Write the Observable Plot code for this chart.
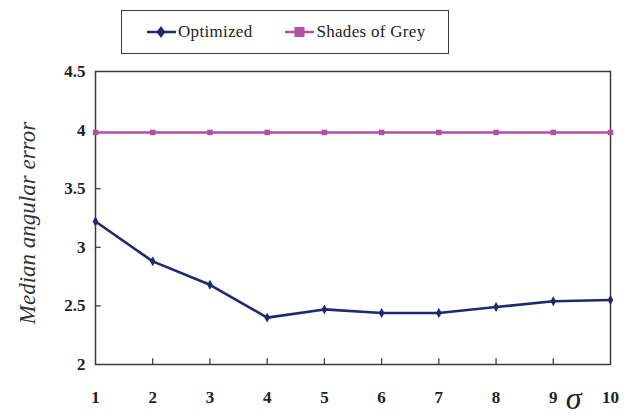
<!DOCTYPE html>
<html>
<head>
<meta charset="utf-8">
<script src="https://cdn.jsdelivr.net/npm/d3@7"></script>
<script src="https://cdn.jsdelivr.net/npm/@observablehq/plot@0.6"></script>
<style>
  body { margin: 0; background: #fff; font-family: "Liberation Serif", "DejaVu Serif", serif; }
  #chart { width: 637px; height: 416px; position: relative; }
  #legendRow { height: 60px; position: relative; }
  #legend {
    position: absolute; left: 121px; top: 10px; width: 328px; height: 44px;
    box-sizing: border-box; border: 1.5px solid #3c3c3c;
    display: flex; align-items: center; font-size: 17px; color: #222;
    letter-spacing: 0.3px;
  }
  .item { display: flex; align-items: center; }
  .item svg { display: block; margin-right: 2px; }
</style>
</head>
<body>
<div id="chart">
  <div id="legendRow"><div id="legend"></div></div>
</div>
<script>
// σ values along the x axis
const sigma = [1, 2, 3, 4, 5, 6, 7, 8, 9, 10];
// median angular error per σ
const optimized = [3.22, 2.88, 2.68, 2.40, 2.47, 2.44, 2.44, 2.49, 2.54, 2.55];
const shadesOfGrey = [3.98, 3.98, 3.98, 3.98, 3.98, 3.98, 3.98, 3.98, 3.98, 3.98];
// axis ticks
const yTicks = [2, 2.5, 3, 3.5, 4, 4.5];
const yInnerTicks = [2.5, 3, 3.5];
const xInnerTicks = [2, 3, 4, 5, 6, 7, 8, 9];

const seriesNames = ["Optimized", "Shades of Grey"];
const colors = ["#1f2a6c", "#b1509f"];
const symbols = ["diamond", "square"];

const rows = sigma.flatMap((s, i) => [
  {sigma: s, error: optimized[i], series: seriesNames[0]},
  {sigma: s, error: shadesOfGrey[i], series: seriesNames[1]}
]);

// legend box above the plot
const legend = document.getElementById("legend");
seriesNames.forEach((name, i) => {
  const item = document.createElement("div");
  item.className = "item";
  item.style.marginLeft = i === 0 ? "25px" : "33px";
  const marker = i === 0
    ? `<polygon points="14,1 18.5,7 14,13 9.5,7" fill="${colors[i]}"/>`
    : `<rect x="9.5" y="2" width="10" height="10" fill="${colors[i]}"/>`;
  item.innerHTML = `<svg width="29" height="14"><line x1="0" x2="29" y1="7" y2="7" stroke="${colors[i]}" stroke-width="2.5"/>${marker}</svg><span>${name}</span>`;
  legend.appendChild(item);
});

const tickFont = {fontWeight: "bold", fontSize: 17};
const y0 = 2, x0 = 1;

const plot = Plot.plot({
  width: 637,
  height: 356,
  marginLeft: 95,
  marginRight: 27,
  marginTop: 11,
  marginBottom: 52,
  style: {fontFamily: "'Liberation Serif', 'DejaVu Serif', serif", fontSize: "17px", color: "#222", background: "#fff", overflow: "visible"},
  x: {domain: [1, 10]},
  y: {domain: [2, 4.5]},
  marks: [
    Plot.axisY({ticks: yTicks, tickSize: 0, tickPadding: 10, tickFormat: d => String(d), label: null, ...tickFont}),
    Plot.axisX({ticks: sigma, tickSize: 0, tickPadding: 26, tickFormat: d => String(d), label: null, ...tickFont}),
    // short inward ticks along the left and bottom edges
    Plot.ruleY(yInnerTicks, {y: d => d, x1: x0, x2: x0 + 0.1, stroke: "#333", strokeWidth: 1.2}),
    Plot.ruleX(xInnerTicks, {x: d => d, y1: y0, y2: y0 + 0.05, stroke: "#333", strokeWidth: 1.2}),
    Plot.frame({stroke: "#3c3c3c", strokeWidth: 1.5}),
    Plot.line(rows, {x: "sigma", y: "error", z: "series",
      stroke: d => colors[seriesNames.indexOf(d.series)], strokeWidth: 2.6}),
    Plot.dot(rows, {x: "sigma", y: "error",
      symbol: d => symbols[seriesNames.indexOf(d.series)],
      fill: d => colors[seriesNames.indexOf(d.series)],
      r: d => d.series === seriesNames[0] ? 5.4 : 5.8}),
    Plot.text(["Median angular error"], {frameAnchor: "left", text: d => d, rotate: -90,
      textAnchor: "middle", dx: -68, dy: 5, fontStyle: "italic", fontSize: 23, fill: "#333"}),
    Plot.text(["σ"], {frameAnchor: "bottom-right", text: d => d, dx: -29, dy: 44,
      fontStyle: "italic", fontSize: 32})
  ]
});
document.getElementById("chart").appendChild(plot);
</script>
</body>
</html>
